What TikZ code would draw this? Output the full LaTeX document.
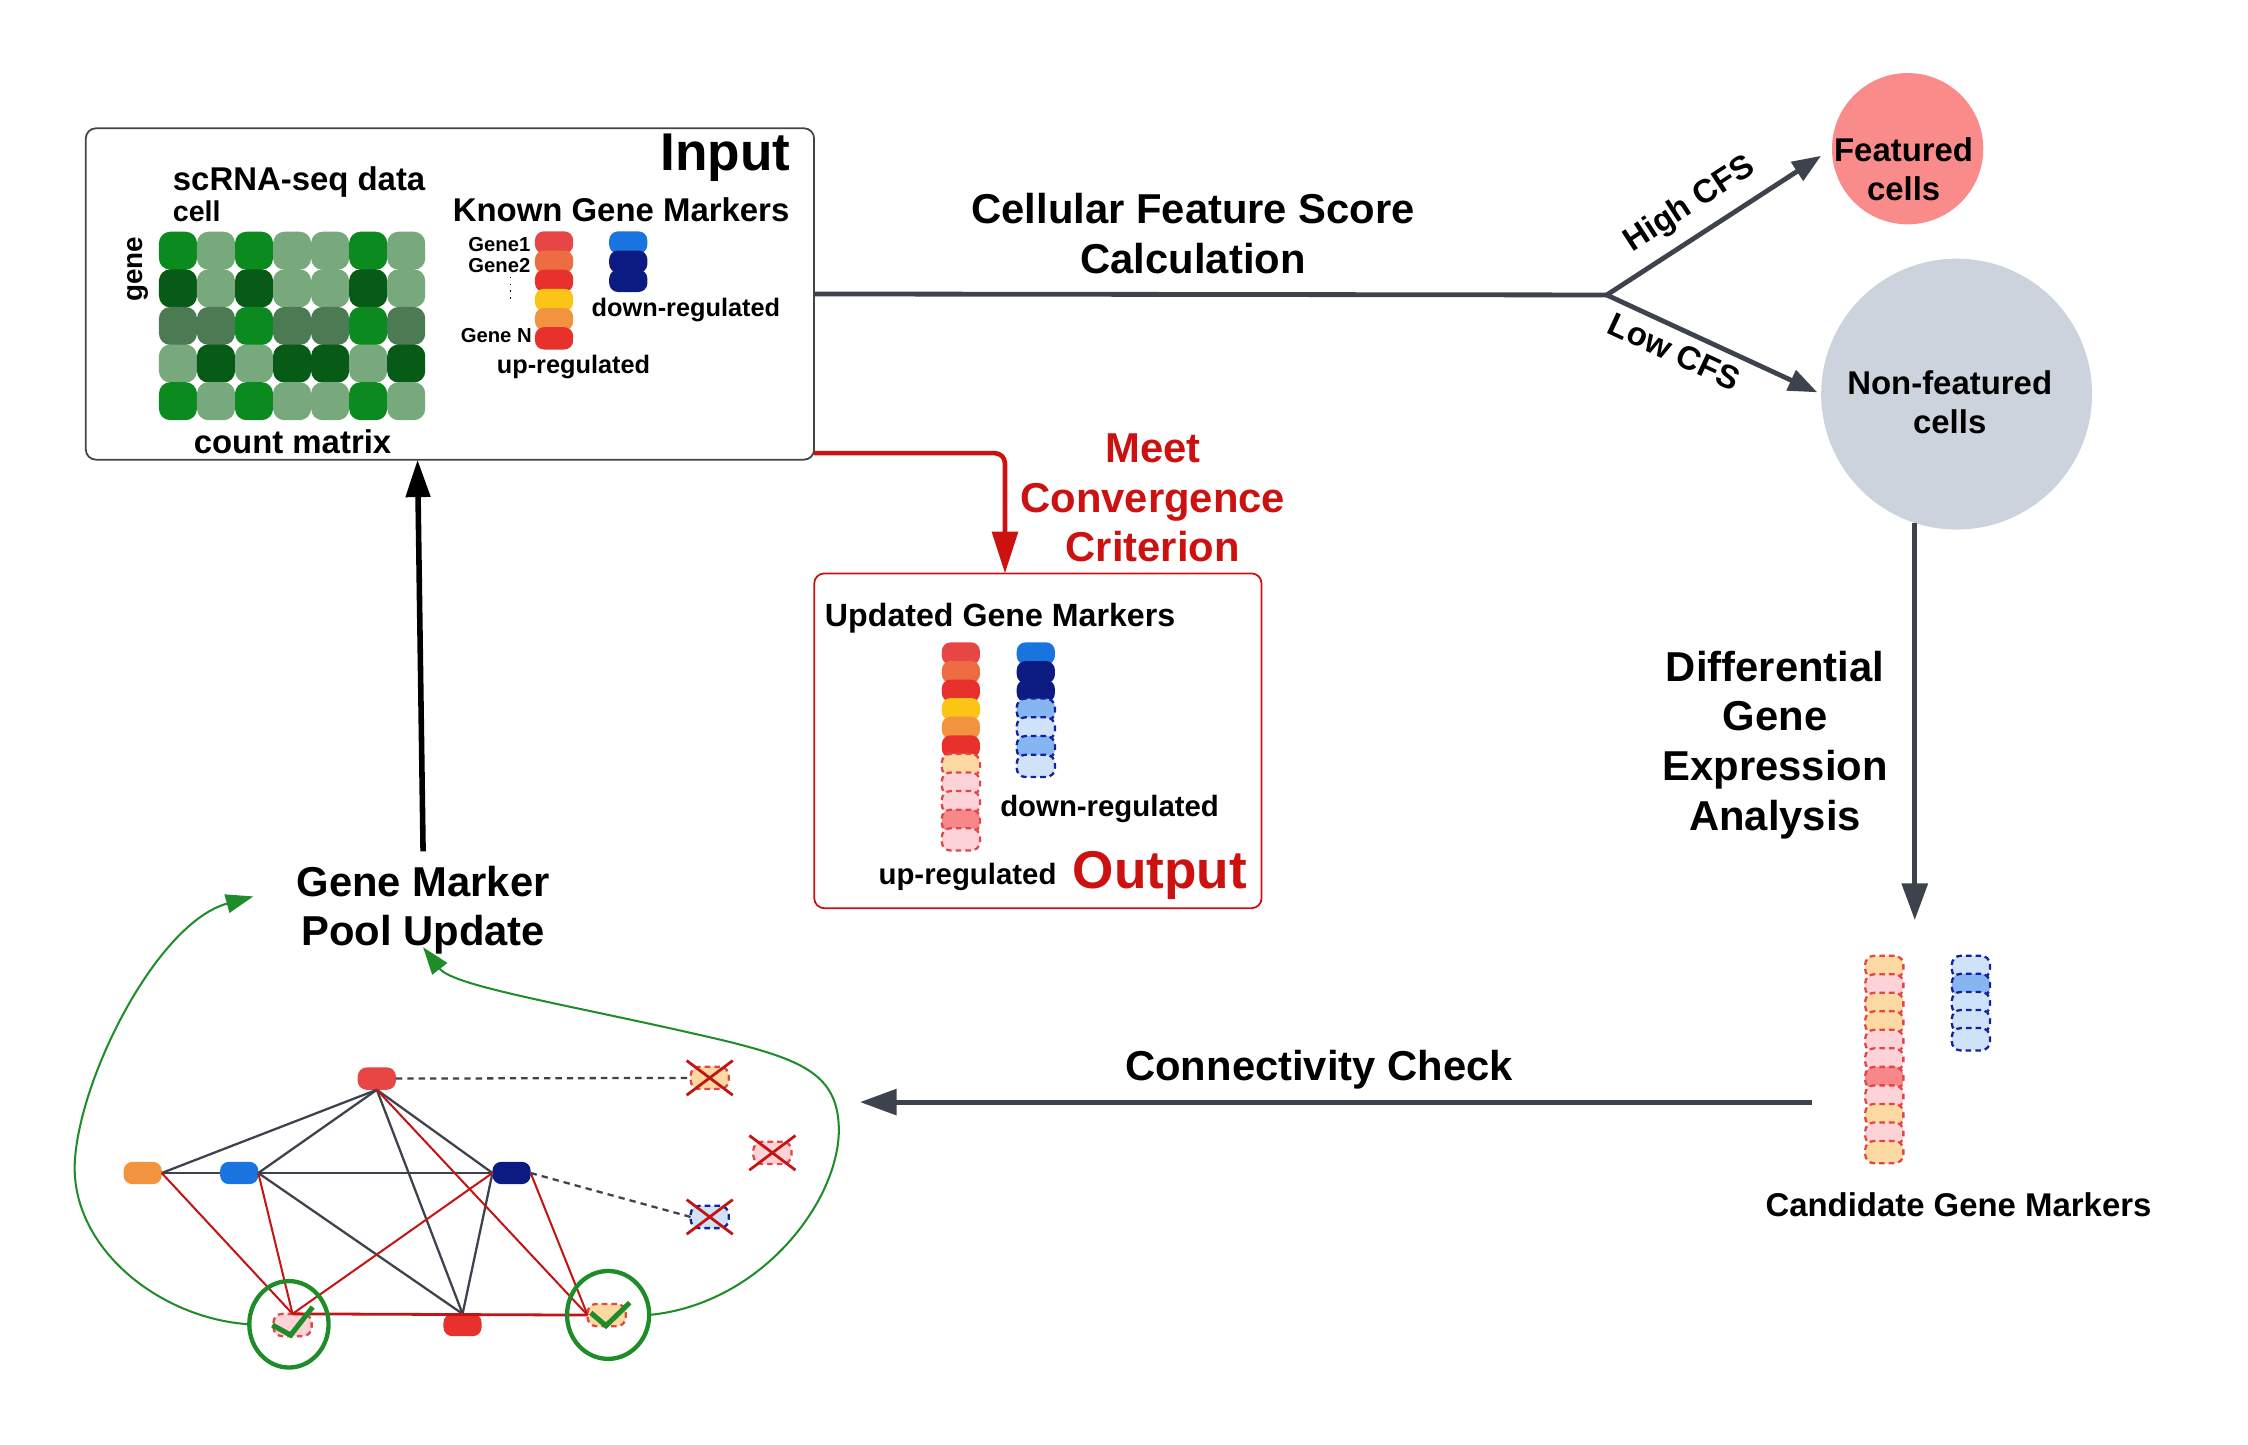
\documentclass[tikz,border=0pt]{standalone}
\usepackage{fontspec}
\setmainfont{Liberation Sans}
\usepackage{tikz}
\usetikzlibrary{arrows.meta,shapes.geometric}

% count matrix greens
\definecolor{mgreen}{HTML}{0B8A1F}
\definecolor{mlight}{HTML}{78A97C}
\definecolor{mdark}{HTML}{075B16}
\definecolor{mmid}{HTML}{4B7A53}
% marker colours
\definecolor{ured}{HTML}{E84545}
\definecolor{uorangered}{HTML}{EE6C42}
\definecolor{ureddeep}{HTML}{E8302C}
\definecolor{uyellow}{HTML}{FCC515}
\definecolor{uorange}{HTML}{F2943F}
\definecolor{dblue}{HTML}{1A74E0}
\definecolor{dnavy}{HTML}{0C1B82}
\definecolor{cpeach}{HTML}{FCD9A2}
\definecolor{cpink}{HTML}{FDD3D7}
\definecolor{csalmon}{HTML}{F8878A}
\definecolor{clblue}{HTML}{CFE2F8}
\definecolor{cmblue}{HTML}{86B6F2}
\definecolor{dashred}{HTML}{E04848}
\definecolor{dashnavy}{HTML}{10229C}
% everything else
\definecolor{featfill}{HTML}{F98C8A}
\definecolor{nonfill}{HTML}{CDD3DC}
\definecolor{flowgray}{HTML}{3D424C}
\definecolor{convred}{HTML}{CC1111}
\definecolor{loopgreen}{HTML}{1F8C2A}
\definecolor{netred}{HTML}{C41414}
\definecolor{boxgray}{HTML}{444444}

\begin{document}
\begin{tikzpicture}[x=0.02cm, y=-0.02cm,
  every node/.style={inner sep=0pt, outer sep=0pt},
  cell/.style={rectangle, rounded corners=4.5pt, minimum size=0.528cm},
  pill/.style={rectangle, rounded corners=3.5pt, minimum width=0.53cm, minimum height=0.31cm},
  uppill/.style={pill, draw=dashred, line width=0.9pt, dash pattern=on 2.2pt off 1.6pt},
  dnpill/.style={pill, draw=dashnavy, line width=0.9pt, dash pattern=on 2.2pt off 1.6pt},
  big/.style={font=\fontsize{16.5}{19.6}\selectfont\bfseries, align=center},
  mid/.style={font=\fontsize{13}{15.2}\selectfont\bfseries, align=center},
  small/.style={font=\fontsize{10}{12}\selectfont\bfseries},
  tiny/.style={font=\fontsize{8}{9.6}\selectfont\bfseries},
  title/.style={font=\fontsize{21}{25}\selectfont\bfseries},
  flowline/.style={draw=flowgray, line width=1.9pt},
  flow/.style={flowline, -{Triangle[length=0.51cm,width=0.354cm]}},
  conv/.style={draw=convred, line width=1.8pt, rounded corners=4pt, -{Triangle[length=0.58cm,width=0.354cm]}},
  back/.style={draw=black, line width=2.2pt, -{Triangle[length=0.52cm,width=0.33cm]}},
  loopline/.style={draw=loopgreen, line width=0.8pt, -{Triangle[length=0.38cm,width=0.26cm]}},
  ring/.style={ellipse, draw=loopgreen, line width=1.7pt},
  gedge/.style={draw=flowgray, line width=0.9pt},
  redge/.style={draw=netred, line width=0.8pt},
  dedge/.style={draw=flowgray, line width=0.9pt, dash pattern=on 2.5pt off 2pt},
  xmark/.style={draw=netred, line width=1.1pt},
  tick/.style={draw=loopgreen, line width=2pt}]
\useasboundingbox (0,0) rectangle (1560,1002.1);

% input
\node[draw=boxgray, line width=0.7pt, rounded corners=4pt, minimum width=10.11cm, minimum height=4.6cm] (input) at (312.25,204) {};
\node[title, anchor=base] (intitle) at (503.5,118) {Input};
\node[mid, anchor=base west] (scrna) at (120,132) {scRNA-seq data};
\node[font=\fontsize{11.3}{13}\selectfont\bfseries, anchor=base west] (celllab) at (120,153.8) {cell};
\node[font=\fontsize{11}{13}\selectfont\bfseries, rotate=90] (genelab) at (95.5,187) {gene};

\node[cell, fill=mgreen] (m11) at (123.5,174) {};
\node[cell, fill=mlight] (m12) at (149.9,174) {};
\node[cell, fill=mgreen] (m13) at (176.3,174) {};
\node[cell, fill=mlight] (m14) at (202.7,174) {};
\node[cell, fill=mlight] (m15) at (229.1,174) {};
\node[cell, fill=mgreen] (m16) at (255.5,174) {};
\node[cell, fill=mlight] (m17) at (281.9,174) {};

\node[cell, fill=mdark] (m21) at (123.5,200.1) {};
\node[cell, fill=mlight] (m22) at (149.9,200.1) {};
\node[cell, fill=mdark] (m23) at (176.3,200.1) {};
\node[cell, fill=mlight] (m24) at (202.7,200.1) {};
\node[cell, fill=mlight] (m25) at (229.1,200.1) {};
\node[cell, fill=mdark] (m26) at (255.5,200.1) {};
\node[cell, fill=mlight] (m27) at (281.9,200.1) {};

\node[cell, fill=mmid] (m31) at (123.5,226.2) {};
\node[cell, fill=mmid] (m32) at (149.9,226.2) {};
\node[cell, fill=mgreen] (m33) at (176.3,226.2) {};
\node[cell, fill=mmid] (m34) at (202.7,226.2) {};
\node[cell, fill=mmid] (m35) at (229.1,226.2) {};
\node[cell, fill=mgreen] (m36) at (255.5,226.2) {};
\node[cell, fill=mmid] (m37) at (281.9,226.2) {};

\node[cell, fill=mlight] (m41) at (123.5,252.3) {};
\node[cell, fill=mdark] (m42) at (149.9,252.3) {};
\node[cell, fill=mlight] (m43) at (176.3,252.3) {};
\node[cell, fill=mdark] (m44) at (202.7,252.3) {};
\node[cell, fill=mdark] (m45) at (229.1,252.3) {};
\node[cell, fill=mlight] (m46) at (255.5,252.3) {};
\node[cell, fill=mdark] (m47) at (281.9,252.3) {};

\node[cell, fill=mgreen] (m51) at (123.5,278.4) {};
\node[cell, fill=mlight] (m52) at (149.9,278.4) {};
\node[cell, fill=mgreen] (m53) at (176.3,278.4) {};
\node[cell, fill=mlight] (m54) at (202.7,278.4) {};
\node[cell, fill=mlight] (m55) at (229.1,278.4) {};
\node[cell, fill=mgreen] (m56) at (255.5,278.4) {};
\node[cell, fill=mlight] (m57) at (281.9,278.4) {};

\node[mid, anchor=base] (countlab) at (203,314.6) {count matrix};

\node[mid, anchor=base] (known) at (431,153.8) {Known Gene Markers};
\node[tiny, anchor=base east] (gene1) at (368,174.6) {Gene1};
\node[tiny, anchor=base east] (gene2) at (368,189.2) {Gene2};
\node[tiny, anchor=base east] (genen) at (369,238) {Gene N};
\draw[dotted, line width=0.7pt] (354.3,192) -- (354.3,210.5);

\node[pill, fill=ured] (kup1) at (384.5,168.3) {};
\node[pill, fill=uorangered] (kup2) at (384.5,181.6) {};
\node[pill, fill=ureddeep] (kup3) at (384.5,194.9) {};
\node[pill, fill=uyellow] (kup4) at (384.5,208.2) {};
\node[pill, fill=uorange] (kup5) at (384.5,221.5) {};
\node[pill, fill=ureddeep] (kup6) at (384.5,234.8) {};
\node[pill, fill=dblue] (kdn1) at (436,168.3) {};
\node[pill, fill=dnavy] (kdn2) at (436,181.6) {};
\node[pill, fill=dnavy] (kdn3) at (436,194.9) {};
\node[small, anchor=base] (kdown) at (476,219.7) {down-regulated};
\node[small, anchor=base] (kup) at (398,259) {up-regulated};

% scoring and the two cell groups
\node[big, anchor=base] (cfs) at (828,189.6) {Cellular Feature Score\\Calculation};
\node[circle, fill=featfill, minimum size=2.1cm] (feat) at (1323.8,103.2) {};
\node[mid, anchor=base] (featlab) at (1321,138.8) {Featured\\cells};
\node[circle, fill=nonfill, minimum size=3.76cm] (nonfeat) at (1357.8,273.5) {};
\node[mid, anchor=base] (nonfeatlab) at (1353,300.7) {Non-featured\\cells};
\node[mid, rotate=33] (high) at (1172.7,142) {High CFS};
\node[mid, rotate=-25] (low) at (1162,244) {Low CFS};

\coordinate (branch) at (1115,204.7);
\draw[flowline] (input.east) -- (branch);
\draw[flowline, -{Triangle[length=0.4cm,width=0.3cm]}, shorten >=0.18cm] (branch) -- (feat.west);
\draw[flowline, -{Triangle[length=0.4cm,width=0.3cm]}, shorten >=0.06cm] (branch) -- (nonfeat.west);

\node[big, anchor=base] (dge) at (1231.8,576) {Differential\\Gene\\Expression\\Analysis};
\coordinate (dgeend) at (1328.3,638.5);
\draw[flow] (nonfeat.252) -- (nonfeat.252 |- dgeend);

% candidate markers
\node[uppill, fill=cpeach] (cup1) at (1307.6,671) {};
\node[uppill, fill=cpink] (cup2) at (1307.6,683.85) {};
\node[uppill, fill=cpeach] (cup3) at (1307.6,696.7) {};
\node[uppill, fill=cpeach] (cup4) at (1307.6,709.55) {};
\node[uppill, fill=cpink] (cup5) at (1307.6,722.4) {};
\node[uppill, fill=cpink] (cup6) at (1307.6,735.25) {};
\node[uppill, fill=csalmon] (cup7) at (1307.6,748.1) {};
\node[uppill, fill=cpink] (cup8) at (1307.6,760.95) {};
\node[uppill, fill=cpeach] (cup9) at (1307.6,773.8) {};
\node[uppill, fill=cpink] (cup10) at (1307.6,786.65) {};
\node[uppill, fill=cpeach] (cup11) at (1307.6,799.5) {};
\node[dnpill, fill=clblue] (cdn1) at (1367.7,671) {};
\node[dnpill, fill=cmblue] (cdn2) at (1367.7,683.55) {};
\node[dnpill, fill=clblue] (cdn3) at (1367.7,696.1) {};
\node[dnpill, fill=clblue] (cdn4) at (1367.7,708.65) {};
\node[dnpill, fill=clblue] (cdn5) at (1367.7,721.2) {};
\node[mid, anchor=base east] (candlab) at (1493,844.3) {Candidate Gene Markers};

\node[big, anchor=base] (conn) at (915.4,750) {Connectivity Check};
\coordinate (ccfrom) at (1257.5,764.8);
\coordinate (ccto) at (596.8,764.8);
\draw[flow] (ccfrom) -- (ccto);

% output
\node[draw=convred, line width=0.7pt, rounded corners=4pt, minimum width=6.21cm, minimum height=4.648cm] (output) at (720.25,514.1) {};
\node[big, text=convred, anchor=base] (meet) at (800,389.8) {Meet\\Convergence\\Criterion};
\draw[conv] ([yshift=0.09cm]input.south east) -| ([xshift=-0.457cm]output.north);
\node[font=\fontsize{12.7}{15}\selectfont\bfseries, anchor=base west] (updated) at (572.5,434.9) {Updated Gene Markers};

\node[pill, fill=ured] (oup1) at (666.8,453.5) {};
\node[pill, fill=uorangered] (oup2) at (666.8,466.4) {};
\node[pill, fill=ureddeep] (oup3) at (666.8,479.3) {};
\node[pill, fill=uyellow] (oup4) at (666.8,492.2) {};
\node[pill, fill=uorange] (oup5) at (666.8,505.1) {};
\node[pill, fill=ureddeep] (oup6) at (666.8,518) {};
\node[uppill, fill=cpeach] (oup7) at (666.8,530.9) {};
\node[uppill, fill=cpink] (oup8) at (666.8,543.8) {};
\node[uppill, fill=cpink] (oup9) at (666.8,556.7) {};
\node[uppill, fill=csalmon] (oup10) at (666.8,569.6) {};
\node[uppill, fill=cpink] (oup11) at (666.8,582.5) {};
\node[pill, fill=dblue] (odn1) at (718.8,453.5) {};
\node[pill, fill=dnavy] (odn2) at (718.8,466.5) {};
\node[pill, fill=dnavy] (odn3) at (718.8,479.5) {};
\node[dnpill, fill=cmblue] (odn4) at (718.8,492.5) {};
\node[dnpill, fill=clblue] (odn5) at (718.8,505.5) {};
\node[dnpill, fill=cmblue] (odn6) at (718.8,518.5) {};
\node[dnpill, fill=clblue] (odn7) at (718.8,531.5) {};
\node[font=\fontsize{11.6}{14}\selectfont\bfseries, anchor=base] (odown) at (770,566.3) {down-regulated};
\node[font=\fontsize{11.6}{14}\selectfont\bfseries, anchor=base] (oup) at (671.4,613.5) {up-regulated};
\node[title, text=convred, anchor=base] (outtitle) at (805,616.5) {Output};

% pool update
\node[big, anchor=base] (pool) at (293.6,656.3) {Gene Marker\\Pool Update};
\draw[back] ([yshift=0.2cm]pool.north) -- ([xshift=-0.45cm]input.south);

% marker network
\node[pill, fill=ured] (ntop) at (261.5,748.5) {};
\node[pill, fill=uorange] (norg) at (99,814) {};
\node[pill, fill=dblue] (nblu) at (166,814) {};
\node[pill, fill=dnavy] (nnav) at (355,814) {};
\node[pill, fill=ureddeep] (nred) at (321,919.5) {};
\node[uppill, fill=cpink] (npnk) at (203,919.5) {};
\node[uppill, fill=cpeach] (nyel) at (421,912.6) {};
\node[uppill, fill=cpeach] (xorg) at (492.5,748) {};
\node[uppill, fill=cpink] (xpnk) at (536,800) {};
\node[dnpill, fill=clblue] (xblu) at (492.5,844.5) {};

\draw[gedge] (ntop.south) -- (norg.east);
\draw[gedge] (ntop.south) -- (nblu.east);
\draw[gedge] (ntop.south) -- (nnav.west);
\draw[gedge] (ntop.south) -- (nred.north);
\draw[gedge] (norg.east) -- (nblu.west);
\draw[gedge] (nblu.east) -- (nnav.west);
\draw[gedge] (nblu.east) -- (nred.north);
\draw[gedge] (nnav.west) -- (nred.north);
\draw[redge] (norg.east) -- (npnk.north);
\draw[redge] (nblu.east) -- (npnk.north);
\draw[redge] (nnav.west) -- (npnk.north);
\draw[redge] (ntop.south) -- (nyel.west);
\draw[redge] (nnav.east) -- (nyel.west);
\draw[redge, line width=1.1pt] (npnk.north) -- (nyel.west);
\draw[dedge] (ntop.east) -- (xorg.west);
\draw[dedge] (nnav.east) -- (xblu.west);

\draw[xmark] ([shift={(-16,-12)}]xorg.center) -- ([shift={(16,12)}]xorg.center);
\draw[xmark] ([shift={(-16,12)}]xorg.center) -- ([shift={(16,-12)}]xorg.center);
\draw[xmark] ([shift={(-16,-12)}]xpnk.center) -- ([shift={(16,12)}]xpnk.center);
\draw[xmark] ([shift={(-16,12)}]xpnk.center) -- ([shift={(16,-12)}]xpnk.center);
\draw[xmark] ([shift={(-16,-12)}]xblu.center) -- ([shift={(16,12)}]xblu.center);
\draw[xmark] ([shift={(-16,12)}]xblu.center) -- ([shift={(16,-12)}]xblu.center);

\node[ring, minimum width=1.1cm, minimum height=1.2cm] (lring) at (200.5,919) {};
\node[ring, minimum width=1.14cm, minimum height=1.22cm] (rring) at (422,912.5) {};
\draw[tick] ([shift={(-14,0)}]npnk.center) -- ([shift={(-1.3,7)}]npnk.center) -- ([shift={(14,-12.5)}]npnk.center);
\draw[tick] ([shift={(-11,-1.6)}]nyel.center) -- ([shift={(-0.5,7.4)}]nyel.center) -- ([shift={(16,-8.6)}]nyel.center);

\draw[loopline] (lring.west) .. controls (110,915) and (48,865) .. (52,805) .. controls (56,745) and (110,640) .. ([xshift=-0.6cm,yshift=0.19cm]pool.west);
\draw[loopline] (rring.east) .. controls (530,905) and (585,830) .. (582,780) .. controls (580,745) and (555,735) .. (502,722) .. controls (400,698) and (315,685) .. ([yshift=0.1cm]pool.south);
\end{tikzpicture}
\end{document}
